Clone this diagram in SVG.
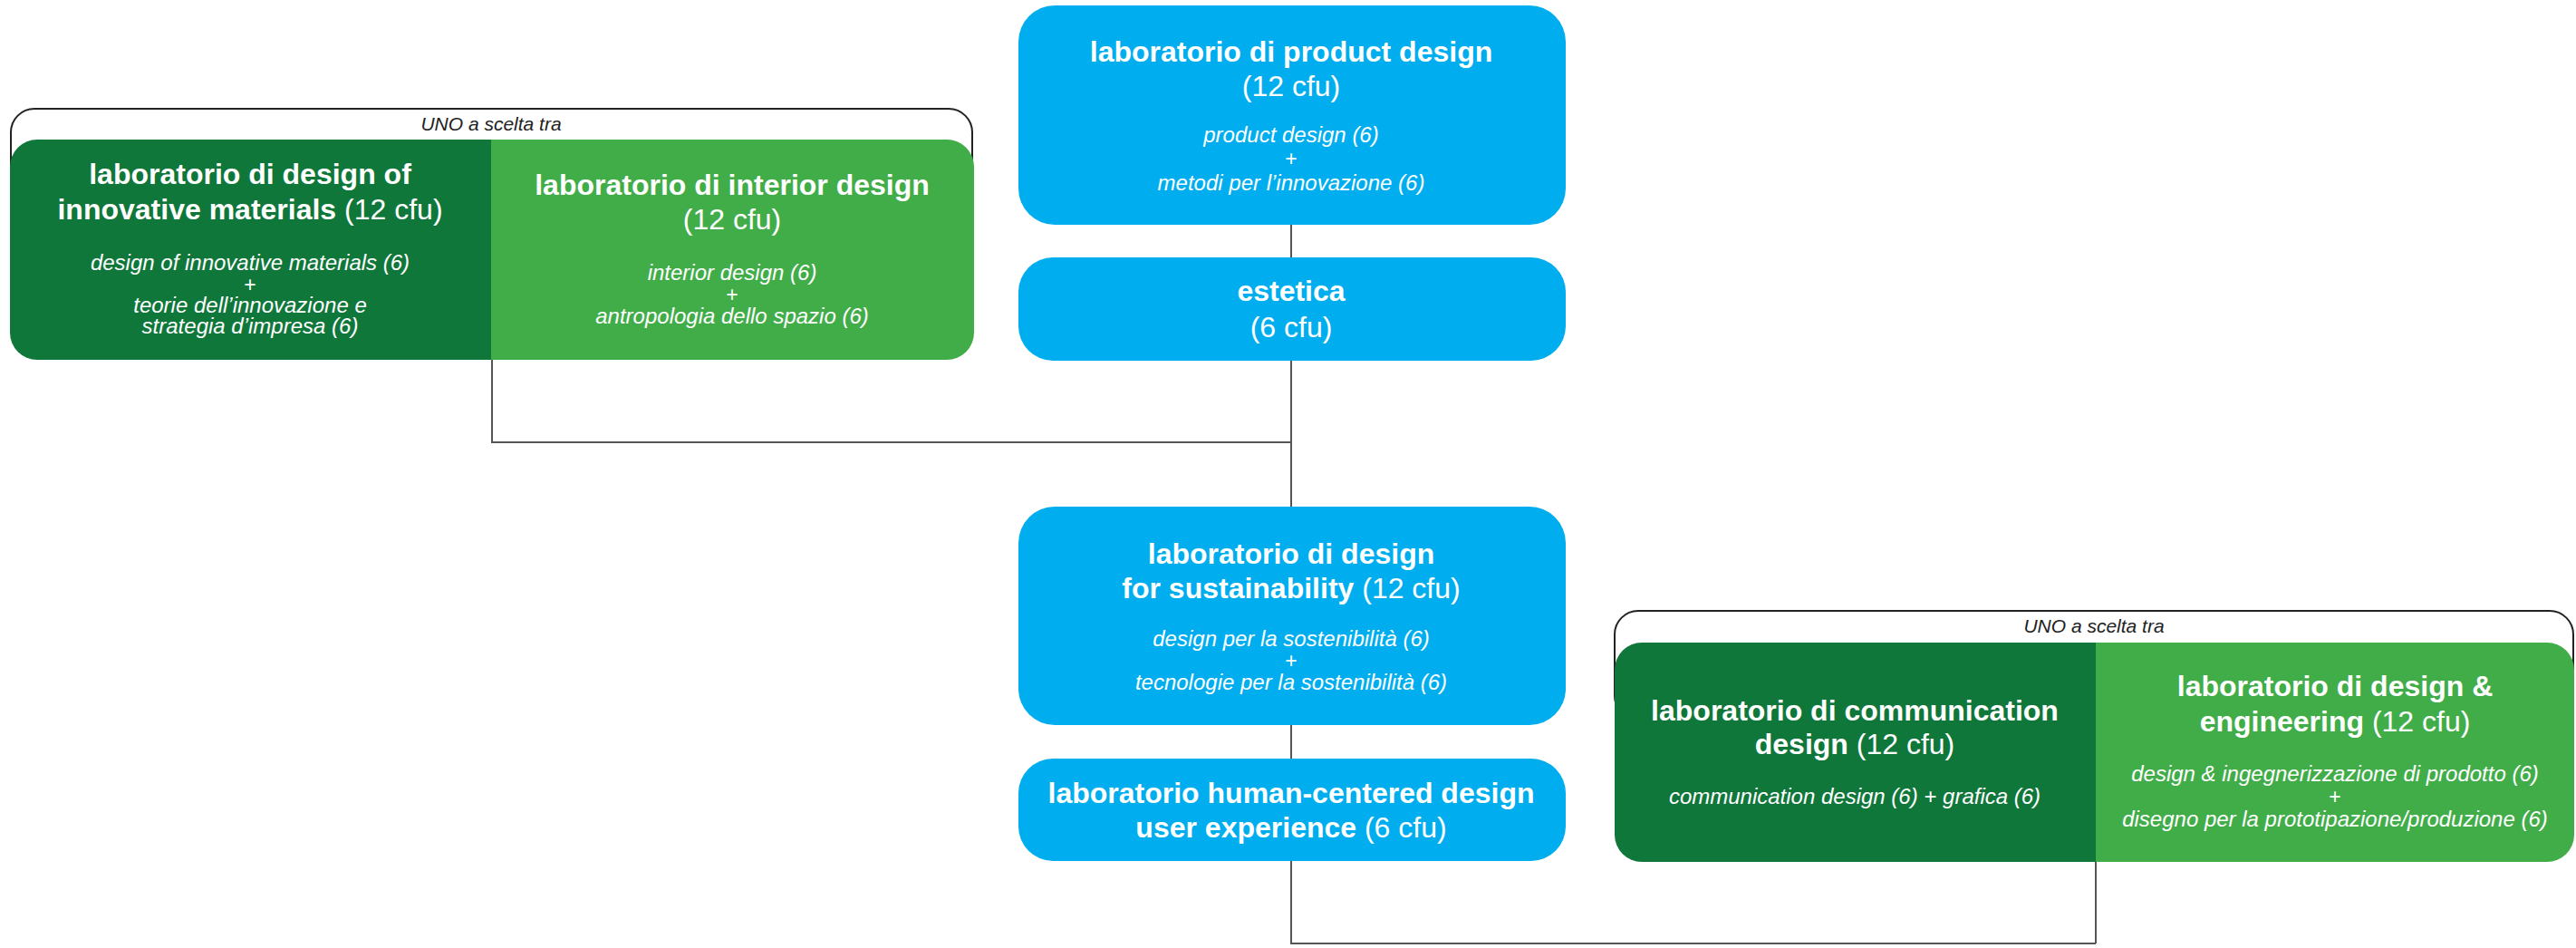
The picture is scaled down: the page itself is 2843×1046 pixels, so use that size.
<svg xmlns="http://www.w3.org/2000/svg" width="2843" height="1046" viewBox="0 0 2843 1046">
<style>
text{font-family:"Liberation Sans",Arial,sans-serif;fill:#fff;text-anchor:middle}
.t{font-size:32px;font-weight:bold}
.r{font-weight:normal}
.i{font-size:24px;font-style:italic}
.p{font-size:23px}
.u{font-size:21px;font-style:italic;fill:#222}
.blue{fill:#00AEEF}
.dk{fill:#10773B}
.lt{fill:#41AD49}
.br{fill:none;stroke:#222;stroke-width:2}
.c{fill:none;stroke:#555;stroke-width:2}
</style>
<rect width="2843" height="1046" fill="#fff"/>
<g id="connectors">
<line class="c" x1="1425" y1="248" x2="1425" y2="284"/>
<polyline class="c" points="1425,398 1425,559"/>
<polyline class="c" points="543,397 543,488 1425,488"/>
<line class="c" x1="1425" y1="800" x2="1425" y2="837"/>
<polyline class="c" points="1425,950 1425,1041 2313,1041"/>
<line class="c" x1="2313" y1="951" x2="2313" y2="1041"/>
</g>
<g id="choice-left">
<rect class="br" x="12" y="120" width="1061" height="120" rx="26"/>
<text class="u" x="542" y="144">UNO a scelta tra</text>
</g>
<g id="lab-innovative-materials">
<path class="dk" d="M543,154 H41 A30,30 0 0 0 11,184 V367 A30,30 0 0 0 41,397 H543 Z"/>
<text class="t" x="276" y="203">laboratorio di design of</text>
<text class="t" x="276" y="242">innovative materials <tspan class="r">(12 cfu)</tspan></text>
<text class="i" x="276" y="298">design of innovative materials (6)</text>
<text class="p" x="276" y="322">+</text>
<text class="i" x="276" y="345">teorie dell’innovazione e</text>
<text class="i" x="276" y="368">strategia d’impresa (6)</text>
</g>
<g id="lab-interior-design">
<path class="lt" d="M542,154 H1045 A30,30 0 0 1 1075,184 V367 A30,30 0 0 1 1045,397 H542 Z"/>
<text class="t" x="808" y="215">laboratorio di interior design</text>
<text class="t r" x="808" y="253">(12 cfu)</text>
<text class="i" x="808" y="309">interior design (6)</text>
<text class="p" x="808" y="333">+</text>
<text class="i" x="808" y="357">antropologia dello spazio (6)</text>
</g>
<g id="lab-product-design">
<rect class="blue" x="1124" y="6" width="604" height="242" rx="40"/>
<text class="t" x="1425" y="68">laboratorio di product design</text>
<text class="t r" x="1425" y="106">(12 cfu)</text>
<text class="i" x="1425" y="157">product design (6)</text>
<text class="p" x="1425" y="183">+</text>
<text class="i" x="1425" y="210">metodi per l’innovazione (6)</text>
</g>
<g id="estetica">
<rect class="blue" x="1124" y="284" width="604" height="114" rx="38"/>
<text class="t" x="1425" y="332">estetica</text>
<text class="t r" x="1425" y="372">(6 cfu)</text>
</g>
<g id="lab-sustainability">
<rect class="blue" x="1124" y="559" width="604" height="241" rx="40"/>
<text class="t" x="1425" y="622">laboratorio di design</text>
<text class="t" x="1425" y="660">for sustainability <tspan class="r">(12 cfu)</tspan></text>
<text class="i" x="1425" y="713">design per la sostenibilità (6)</text>
<text class="p" x="1425" y="737">+</text>
<text class="i" x="1425" y="761">tecnologie per la sostenibilità (6)</text>
</g>
<g id="lab-human-centered">
<rect class="blue" x="1124" y="837" width="604" height="113" rx="38"/>
<text class="t" x="1425" y="886">laboratorio human-centered design</text>
<text class="t" x="1425" y="924">user experience <tspan class="r">(6 cfu)</tspan></text>
</g>
<g id="choice-right">
<rect class="br" x="1782" y="674" width="1058" height="120" rx="26"/>
<text class="u" x="2311" y="698">UNO a scelta tra</text>
</g>
<g id="lab-communication-design">
<path class="dk" d="M2314,709 H1812 A30,30 0 0 0 1782,739 V921 A30,30 0 0 0 1812,951 H2314 Z"/>
<text class="t" x="2047" y="795">laboratorio di communication</text>
<text class="t" x="2047" y="832">design <tspan class="r">(12 cfu)</tspan></text>
<text class="i" x="2047" y="887">communication design (6) + grafica (6)</text>
</g>
<g id="lab-design-engineering">
<path class="lt" d="M2313,709 H2811 A30,30 0 0 1 2841,739 V921 A30,30 0 0 1 2811,951 H2313 Z"/>
<text class="t" x="2577" y="768">laboratorio di design &amp;</text>
<text class="t" x="2577" y="807">engineering <tspan class="r">(12 cfu)</tspan></text>
<text class="i" x="2577" y="862">design &amp; ingegnerizzazione di prodotto (6)</text>
<text class="p" x="2577" y="887">+</text>
<text class="i" x="2577" y="912">disegno per la prototipazione/produzione (6)</text>
</g>
</svg>
